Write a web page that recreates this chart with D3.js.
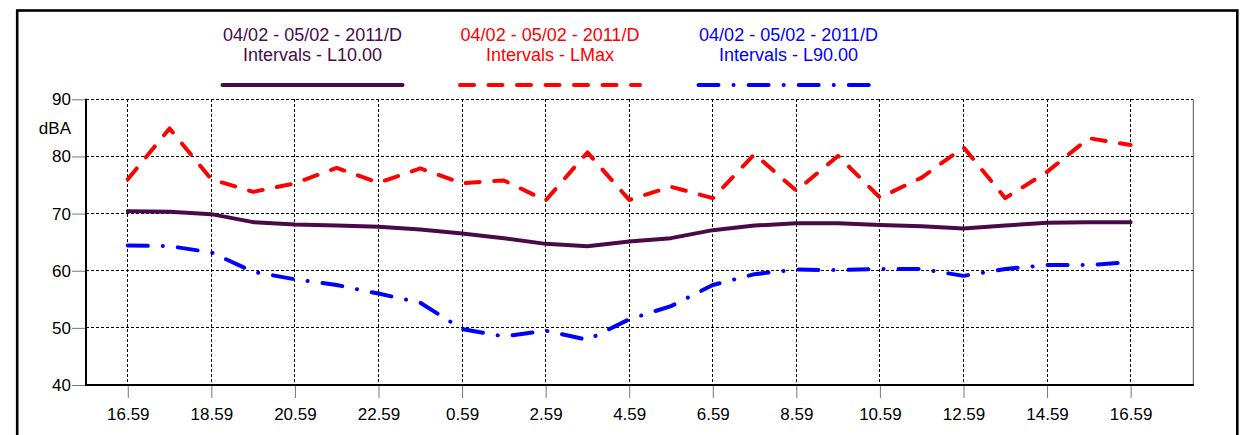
<!DOCTYPE html>
<html><head><meta charset="utf-8">
<script src="https://cdn.jsdelivr.net/npm/d3@7"></script>
<style>body{margin:0;background:#fff}svg{display:block;font-family:"Liberation Sans",Arial,sans-serif}</style>
</head><body><svg id="c" width="1240" height="435"></svg>
<script>
const hours = ["16.59","17.59","18.59","19.59","20.59","21.59","22.59","23.59","0.59","1.59","2.59","3.59","4.59","5.59","6.59","7.59","8.59","9.59","10.59","11.59","12.59","13.59","14.59","15.59","16.59"];
const tickLabels = ["16.59","18.59","20.59","22.59","0.59","2.59","4.59","6.59","8.59","10.59","12.59","14.59","16.59"];
const yTicks = [40,50,60,70,80,90];
const l10 = [70.4,70.3,69.9,68.5,68.1,67.9,67.7,67.2,66.5,65.7,64.7,64.3,65.1,65.7,67.1,67.9,68.3,68.3,68.0,67.8,67.4,67.9,68.4,68.5,68.5];
const lmax = [76.0,84.9,76.0,73.8,75.3,78.0,75.4,77.9,75.3,75.8,72.3,80.7,72.4,74.7,72.7,80.4,74.0,80.1,72.8,76.3,81.6,72.7,77.3,83.2,82.0];
const l90 = [64.4,64.3,63.2,59.8,58.5,57.5,56.0,54.4,49.8,48.5,49.5,47.9,51.5,53.8,57.5,59.4,60.2,60.1,60.3,60.3,59.1,60.3,61.0,61.0,61.5];
const seriesNames = ["Intervals - L10.00","Intervals - LMax","Intervals - L90.00"];
const dateLabel = "04/02 - 05/02 - 2011/D";
const colors = ["#4a0a4a","#ff0000","#0000ff"];
const dashes = [null,"14,14.5","20,15,0.1,15"];

const svg = d3.select("#c");
const L=86, R=1193.3, T=99.3, B=385;
const x = d3.scaleLinear().domain([-1,25.5]).range([L,R]);
const y = d3.scaleLinear().domain([40,90]).range([B,T]);

// outer border
svg.append("rect").attr("x",17.2).attr("y",10.5).attr("width",1237.3-17.2).attr("height",500)
  .attr("fill","none").attr("stroke","#000").attr("stroke-width",2.6);

const tickIdx = d3.range(0,25,2);
// grid
const g = svg.append("g");
g.selectAll(".hg").data(yTicks.filter(v=>v>40)).join("line")
  .attr("x1",L).attr("x2",R).attr("y1",d=>y(d)).attr("y2",d=>y(d))
  .attr("stroke","#000").attr("stroke-width",1).attr("stroke-dasharray","3,2").attr("shape-rendering","crispEdges");
g.selectAll(".vg").data(tickIdx).join("line")
  .attr("x1",d=>x(d)).attr("x2",d=>x(d)).attr("y1",T).attr("y2",B)
  .attr("stroke","#000").attr("stroke-width",1).attr("stroke-dasharray","3,2").attr("shape-rendering","crispEdges");
// right edge
svg.append("line").attr("x1",R).attr("x2",R).attr("y1",T).attr("y2",B).attr("stroke","#555").attr("stroke-width",1);

// y axis
const yAx = svg.append("g").attr("transform",`translate(${L},0)`)
  .call(d3.axisLeft(y).tickValues(yTicks).tickSize(14).tickPadding(1).tickFormat(d3.format("d")));
yAx.select(".domain").remove();
yAx.selectAll(".tick line").attr("stroke","#777");
yAx.selectAll("text").attr("font-size",17).attr("fill","#000").attr("font-family","Liberation Sans, Arial, sans-serif");
svg.append("text").attr("x",71).attr("y",134).attr("text-anchor","end").attr("font-size",17).text("dBA");

// x axis
const xAx = svg.append("g").attr("transform",`translate(0,${B})`)
  .call(d3.axisBottom(x).tickValues(tickIdx).tickSize(13).tickPadding(10).tickFormat((d,i)=>tickLabels[i]));
xAx.select(".domain").remove();
xAx.selectAll(".tick line").attr("stroke","#777");
xAx.selectAll("text").attr("font-size",17).attr("fill","#000").attr("font-family","Liberation Sans, Arial, sans-serif");

// frame left & bottom
svg.append("line").attr("x1",L).attr("x2",L).attr("y1",T-0.5).attr("y2",B+1).attr("stroke","#000").attr("stroke-width",2);
svg.append("line").attr("x1",L-1).attr("x2",R+0.5).attr("y1",B).attr("y2",B).attr("stroke","#000").attr("stroke-width",2.2);

// lines
const line = d3.line().x((d,i)=>x(i)).y(d=>y(d));
[l10,lmax,l90].forEach((s,k)=>{
  const p = svg.append("path").datum(s).attr("d",line).attr("fill","none")
    .attr("stroke",colors[k]).attr("stroke-width",4).attr("stroke-linecap","round").attr("stroke-linejoin","round");
  if(dashes[k]) p.attr("stroke-dasharray",dashes[k]);
});

// legend
const centers = [312.5,550,788.5];
seriesNames.forEach((n,k)=>{
  const cx = centers[k];
  svg.append("text").attr("x",cx).attr("y",41).attr("text-anchor","middle").attr("font-size",18).attr("fill",colors[k]).text(dateLabel);
  svg.append("text").attr("x",cx).attr("y",61).attr("text-anchor","middle").attr("font-size",18).attr("fill",colors[k]).text(n);
  const ln = svg.append("line").attr("x1",cx-90).attr("x2",cx+90).attr("y1",85).attr("y2",85)
    .attr("stroke",colors[k]).attr("stroke-width",4).attr("stroke-linecap","round");
  if(dashes[k]) ln.attr("stroke-dasharray",dashes[k]);
});
</script></body></html>
